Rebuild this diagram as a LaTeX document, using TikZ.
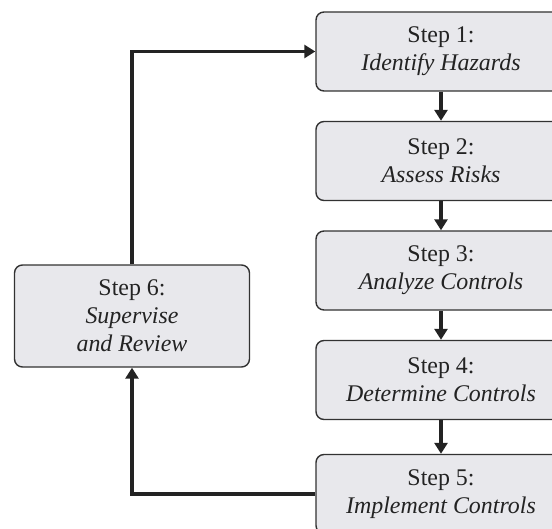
\documentclass[tikz,border=0pt]{standalone}
\usepackage{fontspec}
\setmainfont{Liberation Serif}
\usetikzlibrary{arrows.meta, positioning}
\definecolor{boxfill}{RGB}{232,232,236}
\definecolor{boxline}{RGB}{50,50,50}
\definecolor{ink}{RGB}{35,35,35}

\begin{document}
\begin{tikzpicture}[x=1bp, y=-1bp,
        stepbox/.style={draw=boxline, line width=1.4bp, fill=boxfill, rounded corners=8bp,
            minimum width=250bp, minimum height=79bp, align=center, text=ink,
            font=\fontsize{24}{28}\selectfont},
        flow/.style={draw=ink, line width=3.5bp, -{Triangle[length=11bp, width=13bp]}}]
        % Sizes
        \pgfmathsetmacro{\colx}{441}
        \pgfmathsetmacro{\gap}{109.5}
        \useasboundingbox (0,0) rectangle (552,529);

        % steps
        \node[stepbox] (s1) at (\colx, 51.5) {Step 1:\\\textit{Identify Hazards}};
        \node[stepbox] (s2) at (\colx, 51.5+\gap) {Step 2:\\\textit{Assess Risks}};
        \node[stepbox] (s3) at (\colx, 51.5+2*\gap) {Step 3:\\\textit{Analyze Controls}};
        \node[stepbox] (s4) at (\colx, 51.5+3*\gap) {Step 4:\\\textit{Determine Controls}};
        \node[stepbox] (s5) at (\colx, 494) {Step 5:\\\textit{Implement Controls}};
        \node[stepbox, minimum width=235bp, minimum height=102bp] (s6) at (132, 316)
            {Step 6:\\\textit{Supervise}\\\textit{and Review}};

        % draw diagram
        \draw[flow] (s1) -- (s2);
        \draw[flow] (s2) -- (s3);
        \draw[flow] (s3) -- (s4);
        \draw[flow] (s4) -- (s5);
        \draw[flow] (s5.west) -| (s6.south);
        \draw[flow] (s6.north) |- (s1.west);
\end{tikzpicture}
\end{document}
